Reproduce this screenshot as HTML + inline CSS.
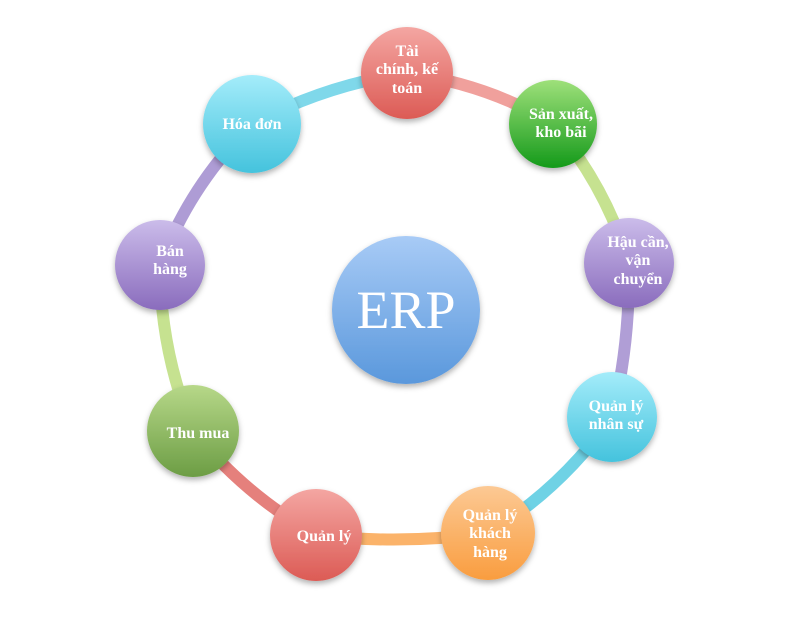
<!DOCTYPE html>
<html><head><meta charset="utf-8"><style>
body{margin:0;background:#fff;width:800px;height:626px;overflow:hidden}
text{font-family:"Liberation Serif","DejaVu Serif",serif;fill:#fff;text-anchor:middle;font-size:16px;font-weight:bold}
</style></head><body>
<svg width="800" height="626" viewBox="0 0 800 626">
<defs>
<linearGradient id="red" x1="0" y1="0" x2="0" y2="1"><stop offset="0" stop-color="#f4a6a2"/><stop offset="1" stop-color="#dc5b55"/></linearGradient>
<linearGradient id="green" x1="0" y1="0" x2="0" y2="1"><stop offset="0" stop-color="#9ee07a"/><stop offset="1" stop-color="#149a1a"/></linearGradient>
<linearGradient id="purple" x1="0" y1="0" x2="0" y2="1"><stop offset="0" stop-color="#cbbcea"/><stop offset="1" stop-color="#8a6cbd"/></linearGradient>
<linearGradient id="cyan" x1="0" y1="0" x2="0" y2="1"><stop offset="0" stop-color="#a4ecfa"/><stop offset="1" stop-color="#44c3dd"/></linearGradient>
<linearGradient id="orange" x1="0" y1="0" x2="0" y2="1"><stop offset="0" stop-color="#fcc994"/><stop offset="1" stop-color="#f99d3f"/></linearGradient>
<linearGradient id="olive" x1="0" y1="0" x2="0" y2="1"><stop offset="0" stop-color="#b7d889"/><stop offset="1" stop-color="#6c9d44"/></linearGradient>
<linearGradient id="blue" x1="0" y1="0" x2="0" y2="1"><stop offset="0" stop-color="#a8cbf6"/><stop offset="1" stop-color="#5a98dc"/></linearGradient>
<filter id="sh" x="-30%" y="-30%" width="160%" height="160%"><feDropShadow dx="0" dy="3" stdDeviation="3" flood-color="#000" flood-opacity="0.3"/></filter>
</defs>
<g stroke-width="12" fill="none" stroke-linecap="butt">
<path d="M407 73 Q490 85 553 124" stroke="#f0a09c"/>
<path d="M553 124 Q605 185 629 263" stroke="#c6e290"/>
<path d="M629 263 Q630 345 612 417" stroke="#b09ed6"/>
<path d="M612 417 Q560 490 488 533" stroke="#6fd2e5"/>
<path d="M488 533 Q400 545 316 535" stroke="#fbb36a"/>
<path d="M316 535 Q245 495 193 431" stroke="#e5807c"/>
<path d="M193 431 Q160 350 160 265" stroke="#c6e290"/>
<path d="M160 265 Q190 185 252 124" stroke="#ae9cd5"/>
<path d="M252 124 Q325 85 407 73" stroke="#7fd8ea"/>
</g>
<g filter="url(#sh)">
<circle cx="407" cy="73" r="46" fill="url(#red)"/>
<circle cx="553" cy="124" r="44" fill="url(#green)"/>
<circle cx="629" cy="263" r="45" fill="url(#purple)"/>
<circle cx="612" cy="417" r="45" fill="url(#cyan)"/>
<circle cx="488" cy="533" r="47" fill="url(#orange)"/>
<circle cx="316" cy="535" r="46" fill="url(#red)"/>
<circle cx="193" cy="431" r="46" fill="url(#olive)"/>
<circle cx="160" cy="265" r="45" fill="url(#purple)"/>
<circle cx="252" cy="124" r="49" fill="url(#cyan)"/>
<circle cx="406" cy="310" r="74" fill="url(#blue)"/>
</g>
<text x="407" y="56">Tài</text><text x="407" y="74">chính, kế</text><text x="407" y="93">toán</text>
<text x="561" y="119">Sản xuất,</text><text x="561" y="137">kho bãi</text>
<text x="638" y="247">Hậu cần,</text><text x="638" y="265">vận</text><text x="638" y="284">chuyển</text>
<text x="616" y="411">Quản lý</text><text x="616" y="429">nhân sự</text>
<text x="490" y="520">Quản lý</text><text x="490" y="538">khách</text><text x="490" y="557">hàng</text>
<text x="324" y="541">Quản lý</text>
<text x="198" y="438">Thu mua</text>
<text x="170" y="256">Bán</text><text x="170" y="274">hàng</text>
<text x="252" y="129">Hóa đơn</text>
<text x="406" y="328" style="font-size:54px;font-weight:normal">ERP</text>
</svg>
</body></html>
